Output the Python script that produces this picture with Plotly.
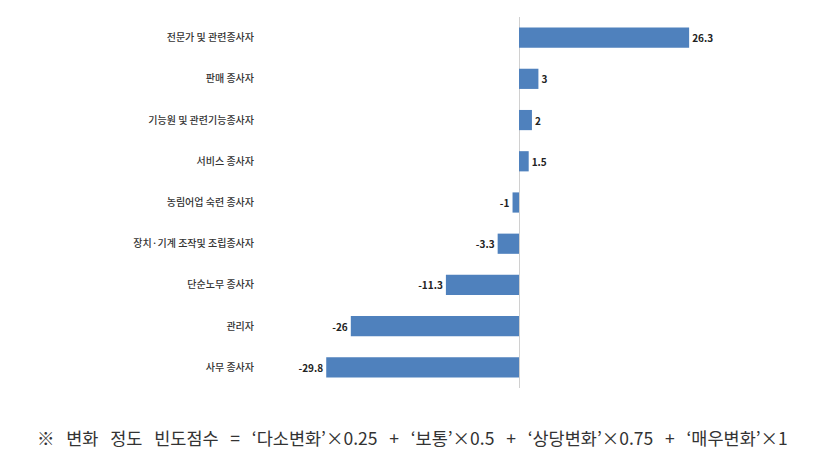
import plotly.graph_objects as go

categories = ["전문가 및 관련종사자", "판매 종사자", "기능원 및 관련기능종사자", "서비스 종사자",
              "농림어업 숙련 종사자", "장치·기계 조작및 조립종사자", "단순노무 종사자", "관리자", "사무 종사자"]
values = [26.3, 3, 2, 1.5, -1, -3.3, -11.3, -26, -29.8]
value_labels = ["26.3", "3", "2", "1.5", "-1", "-3.3", "-11.3", "-26", "-29.8"]
S = "\u00a0"
footnote_parts = ["※", "변화", "정도", "빈도점수", "=", "‘다소변화’×0.25", "+", "‘보통’×0.5", "+",
                  "‘상당변화’×0.75", "+", "‘매우변화’×1"]
footnote = (S * 2 + " ").join(footnote_parts)

font_kr = "Noto Sans CJK KR"

fig = go.Figure(go.Bar(
    y=categories, x=values, orientation="h",
    marker=dict(color="#4F81BD", line=dict(width=0)),
    width=0.49,
    text=value_labels, textposition="outside", cliponaxis=False,
    textfont=dict(family=font_kr, size=10, color="#222222", weight="bold"),
))

L, R, T, B = 312, 109, 17, 73
fig.update_layout(
    width=835, height=461,
    margin=dict(l=L, r=R, t=T, b=B),
    plot_bgcolor="white", paper_bgcolor="white",
    showlegend=False,
    xaxis=dict(range=[-32, 32], showgrid=False, zeroline=True, zerolinecolor="#D0D0D0",
               zerolinewidth=1, showticklabels=False, ticks=""),
    yaxis=dict(autorange="reversed", showgrid=False, zeroline=False, ticks="",
               ticklabelstandoff=57,
               tickfont=dict(family=font_kr, size=10, color="#333333", weight=500)),
    annotations=[dict(text=footnote, xref="paper", yref="paper",
                      x=(35 - L) / (835 - L - R), xanchor="left",
                      y=-(437 - (461 - B)) / (461 - T - B), yanchor="middle",
                      showarrow=False,
                      font=dict(family=font_kr, size=17.5, color="#333333"))],
)

fig.write_html("out.html")
